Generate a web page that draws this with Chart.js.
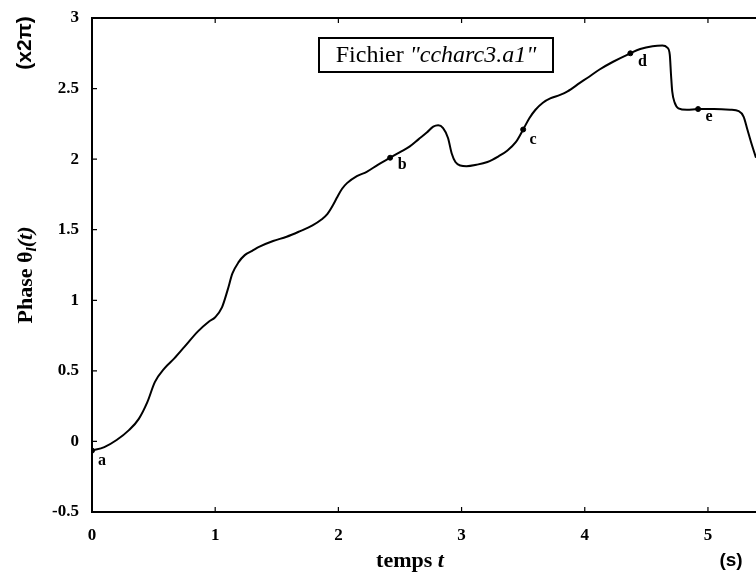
<!DOCTYPE html>
<html>
<head>
<meta charset="utf-8">
<script src="https://cdn.jsdelivr.net/npm/chart.js@4/dist/chart.umd.min.js"></script>
<style>
  html, body { margin: 0; padding: 0; background: #fff; }
  #wrap { width: 756px; height: 575px; }
</style>
</head>
<body>
<div id="wrap"><canvas id="phaseChart" width="756" height="575"></canvas></div>
<script>
// phase trace, time in s, phase in units of 2*pi
const times = [0.00, 0.10, 0.20, 0.30, 0.38, 0.45, 0.51, 0.59, 0.67, 0.75, 0.86, 0.95, 1.00, 1.055, 1.10, 1.14, 1.19, 1.24, 1.30, 1.36,
    1.47, 1.58, 1.69, 1.79, 1.86, 1.91, 1.96, 1.99, 2.03, 2.07, 2.15, 2.23, 2.32, 2.42, 2.50, 2.58, 2.65, 2.72, 2.77, 2.81,
    2.85, 2.89, 2.92, 2.95, 2.99, 3.04, 3.12, 3.21, 3.30, 3.37, 3.44, 3.50, 3.55, 3.60, 3.66, 3.72, 3.80, 3.86, 3.96, 4.02,
    4.12, 4.23, 4.37, 4.45, 4.55, 4.63, 4.67, 4.69, 4.70, 4.71, 4.73, 4.76, 4.83, 4.92, 5.05, 5.18, 5.25, 5.29, 5.32, 5.35, 5.39, 5.42];
const phase = [-0.065, -0.04, 0.01, 0.08, 0.16, 0.28, 0.42, 0.52, 0.59, 0.67, 0.78, 0.85, 0.88, 0.95, 1.07, 1.19, 1.27, 1.32, 1.35, 1.38,
    1.42, 1.45, 1.49, 1.53, 1.57, 1.61, 1.68, 1.73, 1.79, 1.83, 1.88, 1.91, 1.96, 2.01, 2.05, 2.09, 2.14, 2.19, 2.23, 2.24,
    2.22, 2.15, 2.04, 1.98, 1.955, 1.95, 1.96, 1.98, 2.02, 2.06, 2.12, 2.21, 2.29, 2.35, 2.40, 2.43, 2.455, 2.48, 2.54, 2.575,
    2.635, 2.69, 2.75, 2.78, 2.80, 2.805, 2.79, 2.74, 2.60, 2.48, 2.40, 2.36, 2.35, 2.355, 2.355, 2.35, 2.34, 2.30, 2.21, 2.12, 2.01, 1.93];

// labelled points along the trace
const markLabels = ['a', 'b', 'c', 'd', 'e'];
const markTimes = [0.00, 2.42, 3.50, 4.37, 4.92];
const markPhase = [-0.065, 2.01, 2.21, 2.75, 2.355];
const markOffsets = [[10, 10], [12, 7], [10, 10], [12, 9], [11, 8]];

const xTicks = [0, 1, 2, 3, 4, 5];
const yTicks = [-0.5, 0, 0.5, 1, 1.5, 2, 2.5, 3];

const serif = '"Liberation Serif", "DejaVu Serif", serif';
const sans = '"Liberation Sans", "DejaVu Sans", sans-serif';

const framePlugin = {
    id: 'frame',
    afterDraw(chart) {
        const { ctx, chartArea: a, scales } = chart;
        const x = scales.x, y = scales.y;
        ctx.save();
        ctx.strokeStyle = '#000';
        ctx.lineWidth = 2;
        ctx.beginPath();
        ctx.moveTo(chart.width, a.top);
        ctx.lineTo(a.left, a.top);
        ctx.lineTo(a.left, a.bottom);
        ctx.lineTo(chart.width, a.bottom);
        ctx.stroke();

        // inward tick marks
        ctx.lineWidth = 1.2;
        ctx.beginPath();
        xTicks.forEach(v => {
            const px = x.getPixelForValue(v);
            ctx.moveTo(px, a.bottom); ctx.lineTo(px, a.bottom - 5);
            ctx.moveTo(px, a.top); ctx.lineTo(px, a.top + 5);
        });
        yTicks.forEach(v => {
            const py = y.getPixelForValue(v);
            ctx.moveTo(a.left, py); ctx.lineTo(a.left + 5, py);
        });
        ctx.stroke();

        // point letters
        ctx.fillStyle = '#000';
        ctx.font = 'bold 16px ' + serif;
        ctx.textAlign = 'center';
        ctx.textBaseline = 'middle';
        markLabels.forEach((s, i) => {
            const px = x.getPixelForValue(markTimes[i]);
            const py = y.getPixelForValue(markPhase[i]);
            ctx.fillText(s, px + markOffsets[i][0], py + markOffsets[i][1]);
        });

        // file name box
        ctx.lineWidth = 2;
        ctx.fillStyle = '#fff';
        ctx.fillRect(319, 38, 234, 34);
        ctx.strokeRect(319, 38, 234, 34);
        ctx.fillStyle = '#000';
        ctx.textAlign = 'left';
        ctx.font = '24px ' + serif;
        const part1 = 'Fichier ';
        const w1 = ctx.measureText(part1).width;
        ctx.font = 'italic 24px ' + serif;
        const part2 = '"ccharc3.a1"';
        const w2 = ctx.measureText(part2).width;
        let tx = 436 - (w1 + w2) / 2;
        ctx.font = '24px ' + serif;
        ctx.fillText(part1, tx, 56);
        ctx.font = 'italic 24px ' + serif;
        ctx.fillText(part2, tx + w1, 56);

        // x axis title and unit
        ctx.font = 'bold 22px ' + serif;
        const t1 = 'temps ';
        const tw1 = ctx.measureText(t1).width;
        ctx.font = 'bold italic 22px ' + serif;
        const tw2 = ctx.measureText('t').width;
        tx = 410 - (tw1 + tw2) / 2;
        ctx.font = 'bold 22px ' + serif;
        ctx.fillText(t1, tx, 561);
        ctx.font = 'bold italic 22px ' + serif;
        ctx.fillText('t', tx + tw1, 561);
        ctx.font = 'bold 19px ' + sans;
        ctx.textAlign = 'center';
        ctx.fillText('(s)', 731, 561);

        // y axis unit and title, rotated
        ctx.save();
        ctx.translate(25, 43);
        ctx.rotate(-Math.PI / 2);
        ctx.font = 'bold 21px ' + sans;
        ctx.fillText('(x2\u03C0)', 0, 0);
        ctx.restore();

        ctx.save();
        ctx.translate(26, 275);
        ctx.rotate(-Math.PI / 2);
        ctx.textAlign = 'left';
        const segs = [
            { s: 'Phase ', f: 'bold 22px ' + serif, dy: 0 },
            { s: '\u03B8', f: 'bold 22px ' + serif, dy: 0 },
            { s: 'l', f: 'bold italic 15px ' + serif, dy: 6 },
            { s: '(t)', f: 'bold italic 22px ' + serif, dy: 0 }
        ];
        let total = 0;
        segs.forEach(g => { ctx.font = g.f; g.w = ctx.measureText(g.s).width; total += g.w; });
        let sx = -total / 2;
        segs.forEach(g => { ctx.font = g.f; ctx.fillText(g.s, sx, g.dy); sx += g.w; });
        ctx.restore();
        ctx.restore();
    }
};

window.addEventListener('DOMContentLoaded', () => {
    const ctx = document.getElementById('phaseChart').getContext('2d');
    new Chart(ctx, {
        type: 'line',
        data: {
            datasets: [
                {
                    data: times.map((t, i) => ({ x: t, y: phase[i] })),
                    borderColor: '#000',
                    borderWidth: 2,
                    pointRadius: 0,
                    cubicInterpolationMode: 'monotone',
                    fill: false
                },
                {
                    data: markTimes.map((t, i) => ({ x: t, y: markPhase[i] })),
                    showLine: false,
                    pointRadius: 2.5,
                    pointStyle: 'circle',
                    backgroundColor: '#000',
                    borderColor: '#000'
                }
            ]
        },
        options: {
            responsive: false,
            animation: false,
            layout: { autoPadding: false, padding: { top: 18, right: 0, left: 0, bottom: 0 } },
            plugins: { legend: { display: false }, tooltip: { enabled: false } },
            scales: {
                x: {
                    type: 'linear',
                    min: 0,
                    max: 5.39,
                    afterBuildTicks: s => { s.ticks = xTicks.map(v => ({ value: v })); },
                    afterFit: s => { s.height = 63; s.paddingRight = 0; s.paddingLeft = 0; },
                    grid: { display: false },
                    border: { display: false },
                    ticks: { color: '#000', padding: 5, maxRotation: 0, callback: v => String(v), font: { family: serif, size: 17, weight: 'bold' } }
                },
                y: {
                    min: -0.5,
                    max: 3,
                    afterBuildTicks: s => { s.ticks = yTicks.map(v => ({ value: v })); },
                    afterFit: s => { s.width = 92; },
                    grid: { display: false },
                    border: { display: false },
                    ticks: { color: '#000', padding: 5, callback: v => String(v), font: { family: serif, size: 17, weight: 'bold' } }
                }
            }
        },
        plugins: [framePlugin]
    });
});
</script>
</body>
</html>
